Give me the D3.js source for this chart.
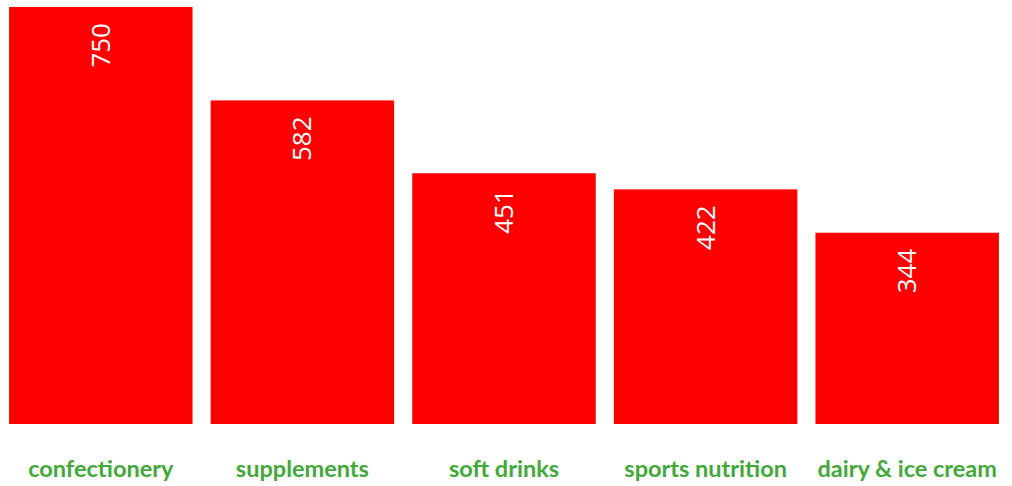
<!DOCTYPE html>
<html>
<head>
<meta charset="utf-8">
<script src="https://cdn.jsdelivr.net/npm/d3@7"></script>
<style>
  html, body { margin: 0; padding: 0; background: #fff; }
  svg { display: block; }
</style>
</head>
<body>
<svg id="chart" width="1012" height="486"></svg>
<script>
// Sales by product category
const categories = ["confectionery", "supplements", "soft drinks", "sports nutrition", "dairy & ice cream"];
const values = [750, 582, 451, 422, 344];

const width = 1012, height = 486;
const plotTop = 7, plotBottom = 424;

const svg = d3.select("#chart");

const x = d3.scaleBand()
  .domain(categories)
  .range([0, 1008])
  .paddingInner(0.09)
  .paddingOuter(0.045);

const y = d3.scaleLinear()
  .domain([0, 750])
  .range([plotBottom, plotTop]);

const data = categories.map((c, i) => ({ category: c, value: values[i] }));

// bars
svg.append("g")
  .selectAll("rect")
  .data(data)
  .join("rect")
  .attr("x", d => x(d.category))
  .attr("y", d => y(d.value))
  .attr("width", x.bandwidth())
  .attr("height", d => y(0) - y(d.value))
  .attr("fill", "#ff0000");

// value labels, rotated inside the top of each bar
svg.append("g")
  .selectAll("text")
  .data(data)
  .join("text")
  .attr("transform", d => `translate(${x(d.category) + x.bandwidth() / 2 + 9},${y(d.value) + 16}) rotate(-90)`)
  .attr("text-anchor", "end")
  .attr("font-family", "'Open Sans', sans-serif")
  .attr("font-size", 26)
  .attr("fill", "#ffffff")
  .text(d => d.value);

// category axis labels
const xAxis = d3.axisBottom(x).tickSize(0).tickPadding(0);
const axisG = svg.append("g")
  .attr("transform", `translate(0,${plotBottom})`)
  .call(xAxis);
axisG.select(".domain").remove();
axisG.selectAll("text")
  .attr("dy", null)
  .attr("y", 53)
  .attr("font-family", "Lato, sans-serif")
  .attr("font-size", 23.5)
  .attr("font-weight", "bold")
  .attr("fill", "#43a83a");
</script>
</body>
</html>
